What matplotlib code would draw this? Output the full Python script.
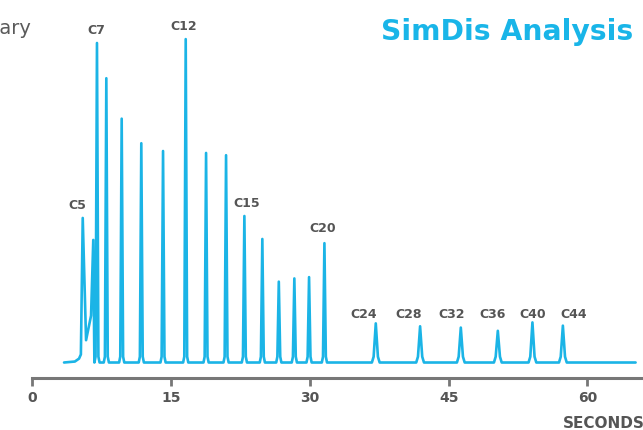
import numpy as np
import matplotlib.pyplot as plt

plt.rcParams['font.family'] = ['DejaVu Sans']

# front of the trace: C5 and the unresolved shoulder before C7 (seconds, % signal)
front_t = [3.43, 4.6, 5.05, 5.25, 5.45, 5.81, 6.35, 6.59, 6.70]
front_s = [0.0, 0.3, 1.2, 2.5, 44.7, 6.9, 14.5, 37.9, 2.7]

# resolved peaks: retention time (s) and height (% of C12)
peak_t = [6.99, 8.00, 9.66, 11.78, 14.13, 16.58, 18.78, 20.94, 22.92, 24.86,
          26.64, 28.32, 29.91, 31.57, 37.12, 41.91, 46.31, 50.31, 54.05, 57.34]
peak_h = [98.8, 87.9, 75.4, 67.8, 65.4, 100.0, 64.8, 64.1, 45.3, 38.2,
          25.0, 26.0, 26.4, 36.9, 12.1, 11.2, 10.8, 9.8, 12.4, 11.4]
end_t = 65.2

# carbon number labels
label_text = ['C5', 'C7', 'C12', 'C15', 'C20', 'C24', 'C28', 'C32', 'C36', 'C40', 'C44']
label_t = [4.83, 6.89, 16.35, 23.21, 31.43, 35.86, 40.72, 45.37, 49.70, 54.13, 58.56]
label_s = [49.0, 103.1, 104.3, 49.6, 41.9, 15.3, 15.3, 15.3, 15.3, 15.3, 15.3]

xticks = [0, 15, 30, 45, 60]

blue = '#1bb4e6'
grey = '#555555'

# build the polyline, early peaks are narrower than the late ones
t = list(front_t)
s = list(front_s)
for pt, ph in zip(peak_t, peak_h):
    w = 0.28 if pt < 35 else 0.42
    if t[-1] < pt - w:
        t.append(pt - w)
        s.append(0.0)
    t += [pt - 0.55 * w, pt, pt + 0.55 * w, pt + w]
    s += [1.8, ph, 1.8, 0.0]
t.append(end_t)
s.append(0.0)

fig = plt.figure(figsize=(6.43, 4.31), dpi=100)
ax = fig.add_axes([32.3 / 643, 1 - 379 / 431, 1 - 32.3 / 643, 379 / 431])

ax.plot(t, s, color=blue, lw=1.9, solid_joinstyle='round', solid_capstyle='round')

for txt, lx, ly in zip(label_text, label_t, label_s):
    ax.text(lx, ly, txt, ha='center', va='center', fontsize=9,
            fontweight='bold', color=grey)

ax.set_xlim(0, 66)
ax.set_ylim(-4.79, 112.4)
ax.set_xticks(xticks)
ax.set_xticklabels([str(v) for v in xticks], fontsize=10, fontweight='bold', color=grey)
ax.tick_params(axis='x', length=6, width=2, color='#777777', pad=3)
ax.set_yticks([])
for side in ['top', 'right', 'left']:
    ax.spines[side].set_visible(False)
ax.spines['bottom'].set_color('#777777')
ax.spines['bottom'].set_linewidth(2.2)
ax.patch.set_alpha(0)

fig.text(633 / 643, 1 - 32 / 431, 'SimDis Analysis', ha='right', va='center',
         fontsize=20.3, fontweight='bold', color='#19b5e8')
fig.text(32 / 643, 1 - 29 / 431, 'Summary', ha='right', va='center',
         fontsize=14, color='#5a5a5a')
fig.text(563 / 643, 1 - 424 / 431, 'SECONDS', ha='left', va='center',
         fontsize=11, fontweight='bold', color=grey)

fig.savefig('out.png', dpi=100)
